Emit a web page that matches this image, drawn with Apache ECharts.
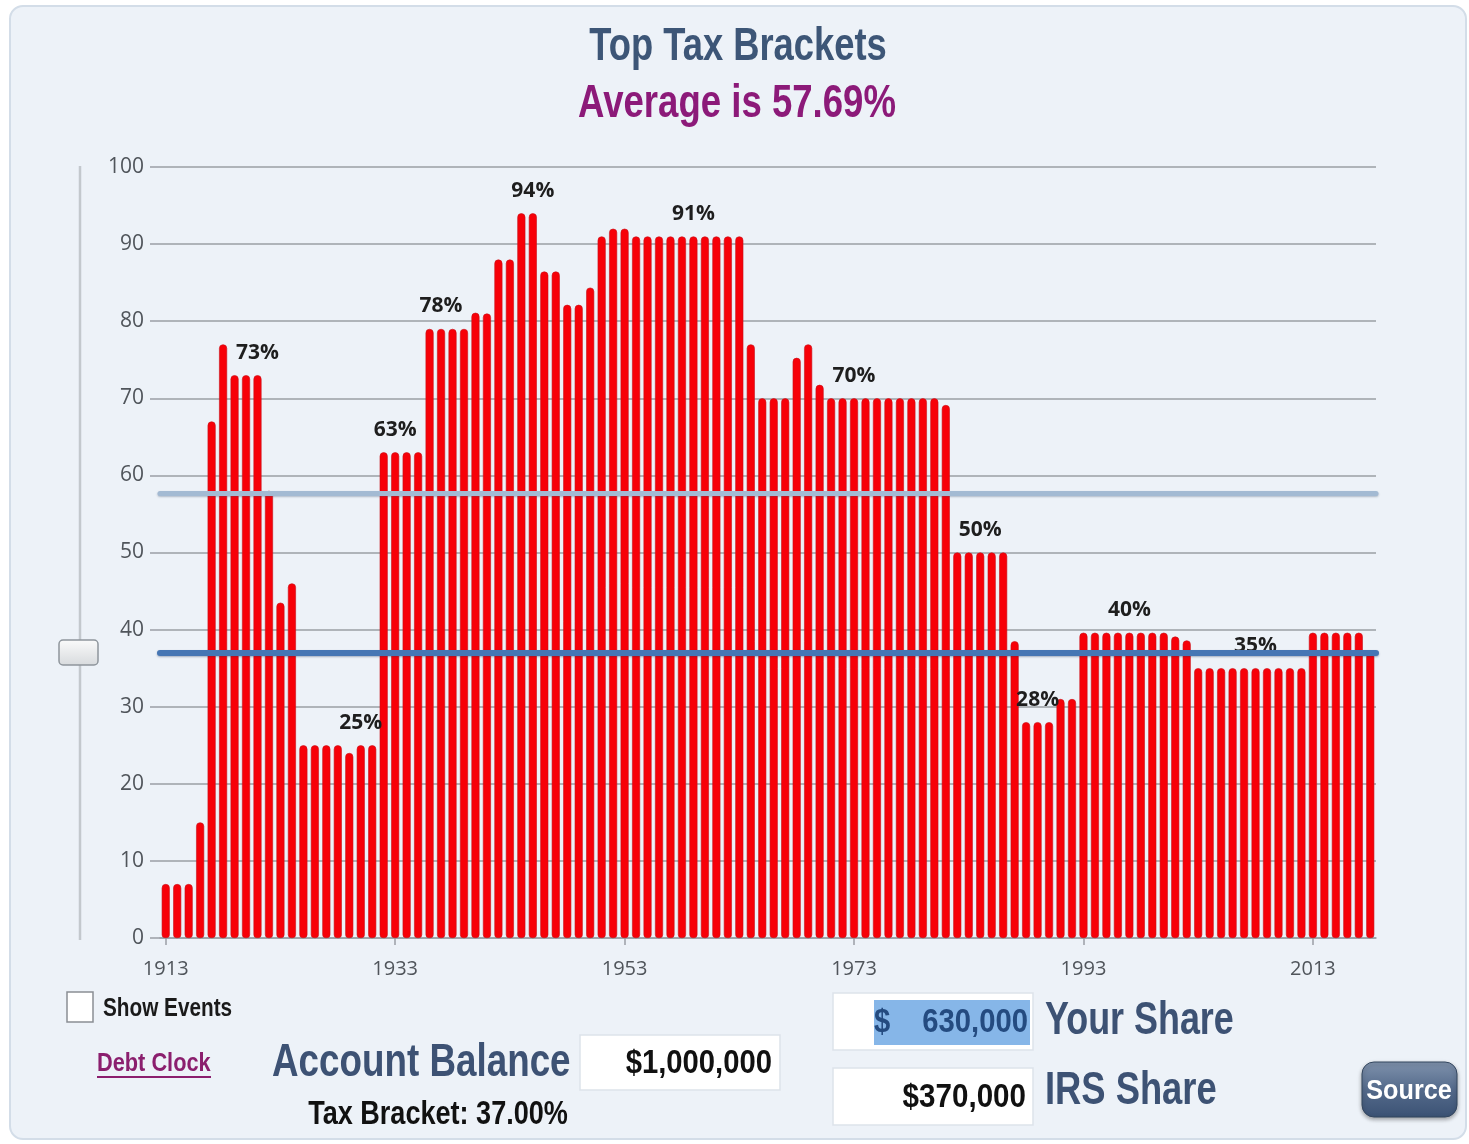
<!DOCTYPE html>
<html>
<head>
<meta charset="utf-8">
<script src="https://cdn.jsdelivr.net/npm/echarts@6/dist/echarts.min.js"></script>
<style>
html,body{margin:0;padding:0;background:#ffffff;width:1469px;height:1144px;overflow:hidden;}
#panel{position:absolute;left:9px;top:5px;width:1454px;height:1131px;background:#edf2f8;border:2px solid #d3dde8;border-radius:14px;}
#chart{position:absolute;left:0;top:0;width:1469px;height:1144px;}
</style>
</head>
<body>
<div id="panel"></div>
<div id="chart"></div>
<script>
const years = ['1913','1914','1915','1916','1917','1918','1919','1920','1921','1922','1923','1924','1925','1926','1927','1928','1929','1930','1931','1932','1933','1934','1935','1936','1937','1938','1939','1940','1941','1942','1943','1944','1945','1946','1947','1948','1949','1950','1951','1952','1953','1954','1955','1956','1957','1958','1959','1960','1961','1962','1963','1964','1965','1966','1967','1968','1969','1970','1971','1972','1973','1974','1975','1976','1977','1978','1979','1980','1981','1982','1983','1984','1985','1986','1987','1988','1989','1990','1991','1992','1993','1994','1995','1996','1997','1998','1999','2000','2001','2002','2003','2004','2005','2006','2007','2008','2009','2010','2011','2012','2013','2014','2015','2016','2017','2018'];
const topRates = [7,7,7,15,67,77,73,73,73,58,43.5,46,25,25,25,25,24,25,25,63,63,63,63,79,79,79,79,81.1,81,88,88,94,94,86.45,86.45,82.13,82.13,84.36,91,92,92,91,91,91,91,91,91,91,91,91,91,77,70,70,70,75.25,77,71.75,70,70,70,70,70,70,70,70,70,70,69.13,50,50,50,50,50,38.5,28,28,28,31,31,39.6,39.6,39.6,39.6,39.6,39.6,39.6,39.6,39.1,38.6,35,35,35,35,35,35,35,35,35,35,39.6,39.6,39.6,39.6,39.6,37];
const labelYears = ['1921','1930','1933','1937','1945','1959','1973','1984','1989','1997','2008'];
const labelTexts = ['73%','25%','63%','78%','94%','91%','70%','50%','28%','40%','35%'];
const averageRate = 57.69;
const currentBracket = 37;

const FL = "'Liberation Sans',Arial,sans-serif";
const FA = "'Open Sans','Noto Sans','DejaVu Sans',sans-serif";

const barData = topRates.map((v,i)=>{
  const k = labelYears.indexOf(years[i]);
  if (k >= 0) {
    return {value:v, label:{show:true, formatter:labelTexts[k]}};
  }
  return v;
});

function txt(text, x, y, size, color, align, sx, weight){
  return {type:'text', x:x, y:y, scaleX:sx, silent:true,
    style:{text:text, font:(weight||'bold')+' '+size+'px '+FL, fill:color, textAlign:align, textVerticalAlign:'middle'}};
}

const chart = echarts.init(document.getElementById('chart'), null, {renderer:'canvas'});
chart.setOption({
  backgroundColor:'transparent',
  animation:false,
  grid:{left:160, right:93, top:167, bottom:206},
  xAxis:{
    type:'category', data:years, boundaryGap:true,
    axisLine:{show:true, lineStyle:{color:'#9a9fa5', width:1.5}},
    axisTick:{show:true, interval:19, alignWithLabel:true, length:7, lineStyle:{color:'#9a9fa5', width:1.5}},
    axisLabel:{interval:19, color:'#50555b', fontFamily:FA, fontSize:20, margin:21}
  },
  yAxis:{
    type:'value', min:0, max:100, interval:10,
    axisLine:{show:false},
    axisTick:{show:true, length:10, lineStyle:{color:'#9a9fa5', width:1.5}},
    axisLabel:{color:'#50555b', fontFamily:FA, fontSize:21, margin:16},
    splitLine:{show:true, lineStyle:{color:'#9a9fa5', width:1.5}}
  },
  series:[
    {
      type:'bar', data:barData, barWidth:8, z:2,
      itemStyle:{color:'#f70008', borderColor:'#c8101a', borderWidth:0.6, borderRadius:[4,4,3,3]},
      label:{show:false, position:'top', distance:12, color:'#1e1e1e', fontFamily:FA, fontWeight:'bold', fontSize:21}
    },
    {
      type:'line', data:[], z:10, silent:true,
      markLine:{
        silent:true, symbol:['none','none'], label:{show:false},
        data:[
          {yAxis:averageRate, lineStyle:{color:'#a3bad3', width:5, type:'solid', shadowColor:'rgba(60,80,110,0.35)', shadowBlur:2, shadowOffsetY:1, cap:'round'}},
          {yAxis:currentBracket, lineStyle:{color:'#4676b4', width:6, type:'solid', shadowColor:'rgba(30,50,90,0.35)', shadowBlur:2, shadowOffsetY:1, cap:'round'}}
        ]
      }
    }
  ],
  graphic:[
    txt('Top Tax Brackets', 738, 47, 46, '#3d5677', 'center', 0.79),
    txt('Average is 57.69%', 737, 104, 46, '#8c1a79', 'center', 0.795),
    // slider
    {type:'line', silent:true, shape:{x1:80, y1:166, x2:80, y2:940}, style:{stroke:'#c3c8cd', lineWidth:2.5}},
    {type:'rect', silent:true, shape:{x:59, y:640, width:39, height:25, r:4}, style:{fill:new echarts.graphic.LinearGradient(0,0,0,1,[{offset:0,color:'#fbfbfb'},{offset:1,color:'#d7dadd'}]), stroke:'#8e959c', lineWidth:1.5}},
    // checkbox
    {type:'rect', silent:true, shape:{x:67, y:992, width:26, height:30}, style:{fill:'#ffffff', stroke:'#8a8f94', lineWidth:1.5}},
    txt('Show Events', 103, 1009, 25, '#1a1a1a', 'left', 0.83),
    txt('Debt Clock', 97, 1064, 25, '#8b1f6e', 'left', 0.87),
    {type:'line', silent:true, shape:{x1:97, y1:1077, x2:211, y2:1077}, style:{stroke:'#8b1f6e', lineWidth:2}},
    txt('Account Balance', 272, 1063, 46, '#3d5274', 'left', 0.8),
    {type:'rect', silent:true, shape:{x:580, y:1035, width:200, height:55}, style:{fill:'#ffffff', stroke:'#dde3ea', lineWidth:1.5}},
    txt('$1,000,000', 772, 1064, 34, '#111111', 'right', 0.86),
    txt('Tax Bracket: 37.00%', 438, 1115, 33, '#111111', 'center', 0.82),
    // right inputs
    {type:'rect', silent:true, shape:{x:833, y:993, width:200, height:57}, style:{fill:'#ffffff', stroke:'#dde3ea', lineWidth:1.5}},
    {type:'rect', silent:true, shape:{x:874, y:1000, width:156, height:45}, style:{fill:'#86b6e8'}},
    txt('$', 874, 1023, 34, '#244b80', 'left', 0.86),
    txt('630,000', 1028, 1023, 34, '#244b80', 'right', 0.86),
    txt('Your Share', 1045, 1021, 46, '#3d5274', 'left', 0.78),
    {type:'rect', silent:true, shape:{x:833, y:1068, width:200, height:57}, style:{fill:'#ffffff', stroke:'#dde3ea', lineWidth:1.5}},
    txt('$370,000', 1026, 1098, 34, '#111111', 'right', 0.87),
    txt('IRS Share', 1045, 1091, 46, '#3d5274', 'left', 0.79),
    // source button
    {type:'rect', silent:true, shape:{x:1362, y:1062, width:95, height:55, r:12}, style:{fill:new echarts.graphic.LinearGradient(0,0,0,1,[{offset:0,color:'#8093ad'},{offset:0.5,color:'#546a8b'},{offset:1,color:'#3b5274'}]), stroke:'#33465f', lineWidth:1, shadowColor:'rgba(0,0,0,0.35)', shadowBlur:4, shadowOffsetY:2}},
    txt('Source', 1409, 1091, 28, '#ffffff', 'center', 0.9)
  ]
});
</script>
</body>
</html>
